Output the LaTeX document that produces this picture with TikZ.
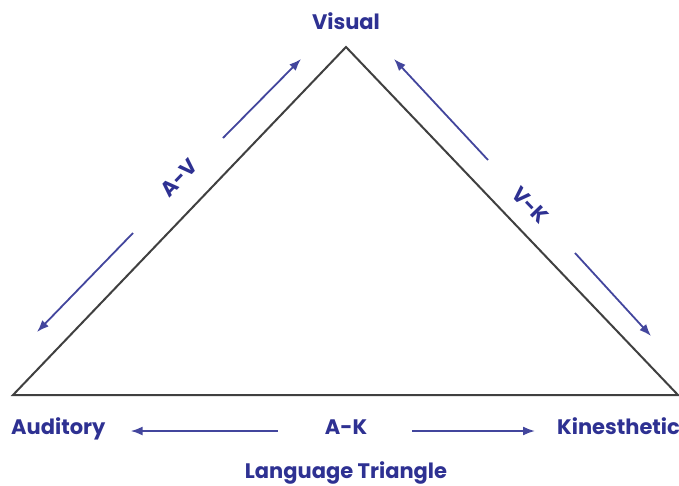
\documentclass[tikz,border=0pt]{standalone}
\usepackage{fontspec}
\setmainfont{Poppins}
\usetikzlibrary{arrows.meta}
\definecolor{navy}{RGB}{46,49,146}
\definecolor{edgegray}{RGB}{64,64,64}

\begin{document}
\begin{tikzpicture}[x=1pt,y=-1pt,>={Latex[length=12pt,width=9pt]}]
	\tikzstyle{side}=[edgegray,line width=2pt,line join=miter]
	\tikzstyle{flow}=[navy!90!white,line width=1.8pt,->]
	\tikzstyle{lbl}=[navy,font=\bfseries\fontsize{21}{25}\selectfont,inner sep=0pt,text height=1.6ex,text depth=.45ex]

	\useasboundingbox (0,0) rectangle (679,485);

	% corners of the triangle
	\coordinate (A) at (13,395);
	\coordinate (V) at (346,47);
	\coordinate (K) at (678,395);
	\draw [side] (A) -- (V) -- (K) -- cycle;

	\node (vis) [lbl] at (346,26) {Visual};
	\node (aud) [lbl, anchor=west] at (11,431) {Auditory};
	\node (kin) [lbl, anchor=west] at (557,431) {Kinesthetic};
	\node (ak) [lbl] at (346,431) {A-K};
	\node (av) [lbl, rotate=46] at (182,181) {A-V};
	\node (vk) [lbl, rotate=-46] at (527,208) {V-K};
	\node (title) [lbl] at (346,475) {Language Triangle};

	% arrows along the sides
	\coordinate (av1) at (223,138);
	\coordinate (av2) at (301,59);
	\coordinate (av3) at (133,233);
	\coordinate (av4) at (37,332);
	\draw [flow] (av1) -- (av2);
	\draw [flow] (av3) -- (av4);

	\coordinate (vk1) at (488,160);
	\coordinate (vk2) at (394,59);
	\coordinate (vk3) at (575,253);
	\coordinate (vk4) at (651,336);
	\draw [flow] (vk1) -- (vk2);
	\draw [flow] (vk3) -- (vk4);

	\draw [flow, shorten <=47pt, shorten >=25pt] (ak.west) -- (aud.east);
	\draw [flow, shorten <=45pt, shorten >=22pt] (ak.east) -- (kin.west);
\end{tikzpicture}
\end{document}
